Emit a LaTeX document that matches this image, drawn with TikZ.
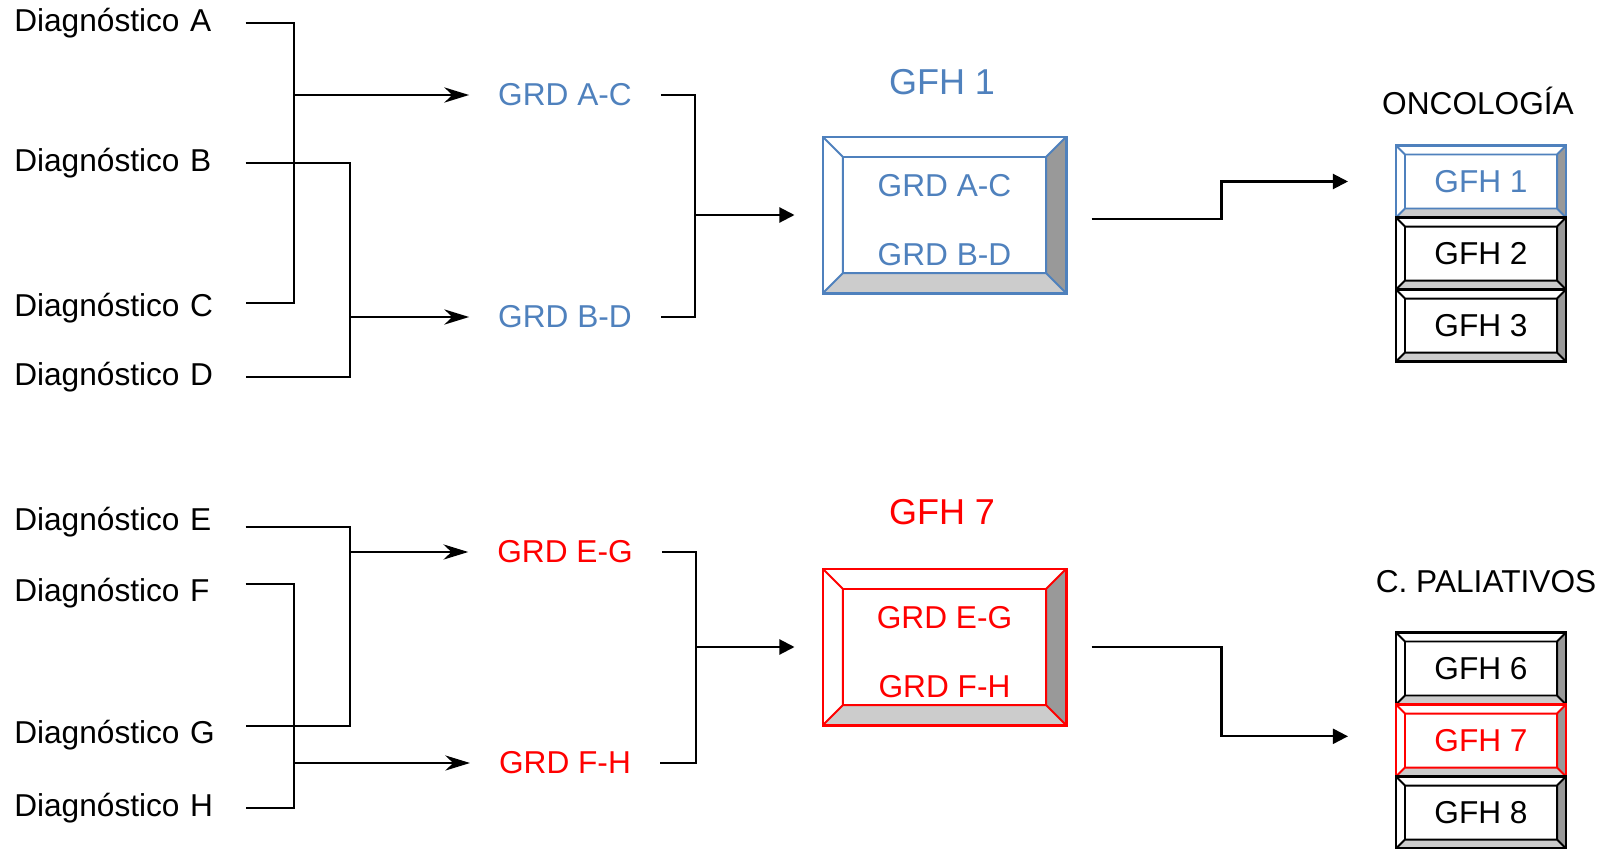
\documentclass[tikz,border=0pt]{standalone}
\usepackage{fontspec}
\setmainfont{Liberation Sans}
\usetikzlibrary{arrows.meta, positioning, calc}
\definecolor{cBlue} {HTML}{4F81BD}
\definecolor{cRed}  {HTML}{FF0000}
\definecolor{cDark} {HTML}{999999}
\definecolor{cLight}{HTML}{CCCCCC}

% framed box with a bevelled rim: #1 colour, #2 rim depth
\tikzset{
  bevel/.style 2 args={fill=white, draw=#1, text=#1, path picture={
      \coordinate (bsw) at (path picture bounding box.south west);
      \coordinate (bne) at (path picture bounding box.north east);
      \coordinate (bse) at (bsw -| bne);
      \coordinate (bnw) at (bsw |- bne);
      \fill[cLight] (bsw) -- (bse) -- ($(bse)+(-#2,#2)$) -- ($(bsw)+(#2,#2)$) -- cycle;
      \fill[cDark]  (bse) -- (bne) -- ($(bne)+(-#2,-#2)$) -- ($(bse)+(-#2,#2)$) -- cycle;
      \draw[#1, line width=1.4pt] ($(bsw)+(#2,#2)$) rectangle ($(bne)+(-#2,-#2)$)
        (bsw) -- ++(#2,#2) (bse) -- ++(-#2,#2) (bne) -- ++(-#2,-#2) (bnw) -- ++(#2,-#2);
  }}
}
% taller first line, pushes the two rows a little down
\newcommand{\toprow}{\rule{0pt}{23pt}}

\begin{document}
\begin{tikzpicture}[x=0.025cm, y=-0.025cm,
      font=\fontsize{22.5}{27}\selectfont,
      diag/.style  = {text width=5.775cm, inner xsep=0pt, anchor=west, align=left},
      grd/.style   = {inner xsep=0.72cm},
      title/.style = {font=\fontsize{25.6}{30}\selectfont},
      big/.style   = {bevel={#1}{0.5cm}, line width=2.1pt, minimum width=6.075cm, minimum height=3.9cm, align=center, font=\fontsize{22.5}{49}\selectfont},
      small/.style = {bevel={#1}{0.225cm}, line width=1.8pt, outer sep=0pt, minimum width=4.25cm, minimum height=1.8cm},
      ln/.style    = {line width=1.5pt},
      stl/.style   = {ln, -{Stealth[length=0.62cm, width=0.38cm, inset=0.2cm]}},
      tri/.style   = {ln, -{Triangle[length=0.375cm, width=0.375cm]}} ]
    \useasboundingbox (0,0) rectangle (1606,849);

    % ---- oncology ----
    \node[diag] (dA) at (14,23)    {Diagnóstico A};
    \node[diag] (dB) at (14,163)   {Diagnóstico B};
    \node[diag] (dC) at (14,308.5) {Diagnóstico C};
    \node[diag] (dD) at (14,377)   {Diagnóstico D};

    \node[grd, text=cBlue] (gAC) at (565,95)  {GRD A-C};
    \node[grd, text=cBlue] (gBD) at (565,317) {GRD B-D};

    \node[title, text=cBlue] (t1) at (942,82) {GFH 1};
    \node[big=cBlue] (box1) at (944.5,215) {\toprow GRD A-C\\GRD B-D};

    \node (onc) at (1478,101) {ONCOLOGÍA};
    \node[small=cBlue]                      (gfh1) at (1481,181.5) {GFH 1};
    \node[small=black, below=0pt of gfh1] (gfh2) {GFH 2};
    \node[small=black, below=0pt of gfh2] (gfh3) {GFH 3};

    \coordinate (jA) at ([xshift=1.2cm]dA.east);
    \coordinate (jB) at ([xshift=2.6cm]dB.east);
    \draw[ln] (dA.east) -- (jA) |- ([yshift=3.9pt]dC.east);
    \draw[ln] (dB.east) -- (jB) |- (dD.east);
    \draw[stl] (jA |- gAC.west) -- (gAC.west);
    \draw[stl] (jB |- gBD.west) -- (gBD.west);

    \coordinate (kA) at ([xshift=0.85cm]gAC.east);
    \draw[ln] (gAC.east) -- (kA) |- (gBD.east);
    \draw[tri] (kA |- box1.west) -- ([xshift=-0.675cm]box1.west);

    \coordinate (in1) at ([xshift=-1.2cm]gfh1.west);
    \draw[tri] ([xshift=0.6cm, yshift=-3pt]box1.east) -- ++(130,0) |- (in1);

    % ---- palliative care ----
    \node[diag] (dE) at (14,522.5) {Diagnóstico E};
    \node[diag] (dF) at (14,593.5) {Diagnóstico F};
    \node[diag] (dG) at (14,735.5) {Diagnóstico G};
    \node[diag] (dH) at (14,808)   {Diagnóstico H};

    \node[grd, text=cRed] (gEG) at (565,552) {GRD E-G};
    \node[grd, text=cRed] (gFH) at (565,763) {GRD F-H};

    \node[title, text=cRed] (t7) at (942,512) {GFH 7};
    \node[big=cRed] (box7) at (944.5,647) {\toprow GRD E-G\\GRD F-H};

    \node (pal) at (1486,582) {C. PALIATIVOS};
    \node[small=black]                     (gfh6) at (1481,668.5) {GFH 6};
    \node[small=cRed, below=0pt of gfh6]  (gfh7) {GFH 7};
    \node[small=black, below=0pt of gfh7] (gfh8) {GFH 8};

    \coordinate (jE) at ([xshift=2.6cm, yshift=-3.2pt]dE.east);
    \coordinate (jF) at ([xshift=1.2cm, yshift=6.7pt]dF.east);
    \draw[ln] ([yshift=-3.2pt]dE.east) -- (jE) |- ([yshift=6.7pt]dG.east);
    \draw[ln] ([yshift=6.7pt]dF.east) -- (jF) |- (dH.east);
    \draw[stl] (jE |- gEG.west) -- (gEG.west);
    \draw[stl] (jF |- gFH.west) -- (gFH.west);

    \coordinate (kE) at ([xshift=0.85cm]gEG.east);
    \draw[ln] (gEG.east) -- (kE) |- (gFH.east);
    \draw[tri] (kE |- box7.west) -- ([xshift=-0.675cm]box7.west);

    \coordinate (in7) at ([xshift=-1.2cm, yshift=3pt]gfh7.west);
    \draw[tri] ([xshift=0.6cm]box7.east) -- ++(130,0) |- (in7);
\end{tikzpicture}
\end{document}
